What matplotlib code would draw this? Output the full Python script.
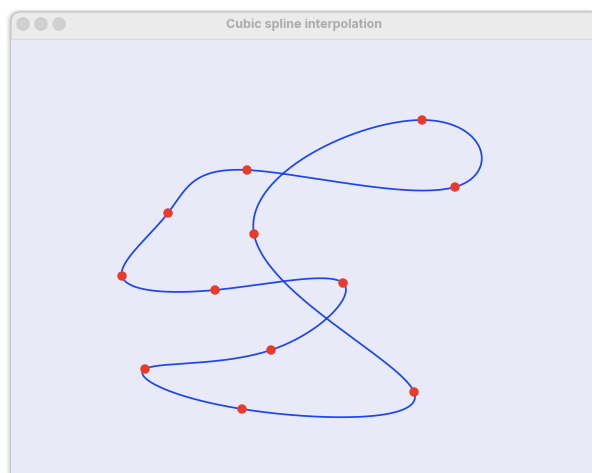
import numpy as np
import matplotlib
matplotlib.use("Agg")
import matplotlib.pyplot as plt
from matplotlib.patches import FancyBboxPatch, Rectangle, Circle

# control points (window content pixels, y down), closed curve order
xs = [411, 444, 236, 157, 111, 204, 332, 260, 134, 231, 403, 243]
ys = [81, 148, 131, 174, 237, 251, 244, 311, 330, 370, 353, 195]

title = "Cubic spline interpolation"

W, H = 592, 473
WIN_X, WIN_Y = 11, 12      # window top-left
BAR_H = 27                 # title bar height


def periodic_spline(y, n_per=60):
    # periodic cubic spline, uniform parameter
    y = np.asarray(y, dtype=float)
    n = len(y)
    A = np.zeros((n, n))
    b = np.zeros(n)
    for i in range(n):
        A[i, (i - 1) % n] = 1
        A[i, i] = 4
        A[i, (i + 1) % n] = 1
        b[i] = 6 * (y[(i + 1) % n] - 2 * y[i] + y[(i - 1) % n])
    M = np.linalg.solve(A, b)
    out = []
    t = np.linspace(0, 1, n_per, endpoint=False)
    for i in range(n):
        j = (i + 1) % n
        a = (1 - t)
        seg = (M[i] * a ** 3 + M[j] * t ** 3) / 6 \
            + (y[i] - M[i] / 6) * a + (y[j] - M[j] / 6) * t
        out.append(seg)
    out.append([y[0]])
    return np.concatenate(out)


fig = plt.figure(figsize=(W / 100, H / 100), dpi=100)
fig.patch.set_facecolor("white")

# soft shadow left of the window
bg = fig.add_axes([0, 0, 1, 1])
bg.set_xlim(0, W)
bg.set_ylim(H, 0)
bg.axis("off")
for k, a in enumerate([0.025, 0.03, 0.04, 0.05, 0.06]):
    bg.add_patch(FancyBboxPatch((WIN_X - 5 + k, WIN_Y - 3 + k * 0.6), W, H,
                                boxstyle="round,pad=0,rounding_size=12",
                                fc="black", ec="none", alpha=a))

# window frame + title bar
bg.add_patch(FancyBboxPatch((WIN_X, WIN_Y), W, H,
                            boxstyle="round,pad=0,rounding_size=10",
                            fc="#ebebeb", ec="#c4c4c4", lw=0.8))
bg.add_patch(Rectangle((WIN_X, WIN_Y + BAR_H), W, H, fc="#e9eaf8",
                       ec="none"))
bg.plot([WIN_X, W], [WIN_Y + BAR_H, WIN_Y + BAR_H], color="#dcdce6", lw=1)
for cx in [23, 41, 59]:
    bg.add_patch(Circle((cx, WIN_Y + 12), 6.2,
                        fc="#d0d0d0", ec="#c6c6c6", lw=0.5))
bg.text(304, WIN_Y + 12.5, title, ha="center", va="center",
        fontsize=9.0, fontweight="bold", color="#ababab",
        family=["Inter", "DejaVu Sans"])

# plot area (content of the window)
cx0, cy0 = WIN_X, WIN_Y + BAR_H
ax = fig.add_axes([cx0 / W, 0, 1 - cx0 / W, 1 - cy0 / H])
ax.set_xlim(0, W - cx0)
ax.set_ylim(H - cy0, 0)
ax.axis("off")

sx = periodic_spline(xs)
sy = periodic_spline(ys)
ax.plot(sx, sy, color="#1a46f5", lw=1.25, solid_capstyle="round", zorder=2)
ax.scatter(xs, ys, s=46, color="#ea3b2a", edgecolors="none", zorder=3)

fig.savefig("out.png", dpi=100)
